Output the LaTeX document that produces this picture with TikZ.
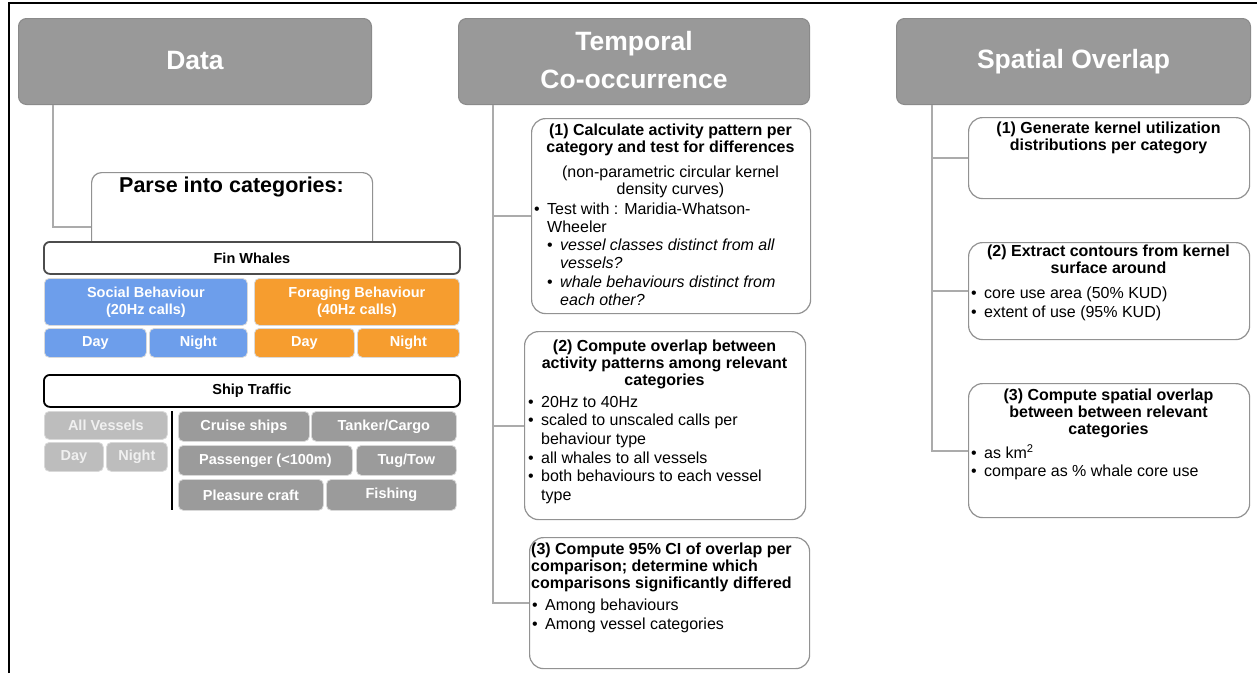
\documentclass[tikz,border=0pt]{standalone}
\usepackage{fontspec}
\setmainfont{Liberation Sans}
\definecolor{hdr}{HTML}{999999}
\definecolor{hdrb}{HTML}{8A8A8A}
\definecolor{connc}{HTML}{ABABAB}
\definecolor{boxb}{HTML}{929292}
\definecolor{blu}{HTML}{6D9EEB}
\definecolor{org}{HTML}{F69D2F}
\definecolor{lgr}{HTML}{BDBDBD}
\definecolor{dgr}{HTML}{9B9B9B}
\newcommand\bul[1]{\makebox[13pt][l]{•}#1}
\newcommand\ind{\hspace*{13pt}}
\begin{document}
\begin{tikzpicture}[x=1pt,y=-1pt,
  hdrbox/.style={draw=hdrb, fill=hdr, rounded corners=8pt, line width=1pt, text=white,
    font=\fontsize{26.5}{38}\selectfont\bfseries, align=center, inner sep=0, anchor=north west},
  cbox/.style={draw=boxb, fill=white, rounded corners=14pt, line width=1.2pt, anchor=north west, inner sep=0},
  cell/.style={rounded corners=5pt, draw=white!85!black, line width=0.8pt, text=white,
    font=\fontsize{14.5}{17}\selectfont\bfseries, align=center, inner sep=0, anchor=north west},
  barbox/.style={fill=white, rounded corners=6pt, line width=1.8pt, anchor=north west, inner sep=0,
    font=\fontsize{14.5}{17}\selectfont\bfseries},
  conn/.style={draw=connc, line width=1.8pt},
  ttl/.style={font=\fontsize{16}{16.7}\selectfont\bfseries, inner sep=0, anchor=north, align=center},
  bod/.style={font=\fontsize{16}{18.6}\selectfont, inner sep=0, anchor=north west, align=left},
]
\useasboundingbox (0,0) rectangle (1257,673);
\fill[white] (0,0) rectangle (1257,673);
% frame
\draw[line width=1.8pt] (9,673) -- (9,3) -- (1257,3);

% headers
\node[hdrbox, minimum width=353, minimum height=86] (data) at (18,18) {\raisebox{2pt}{Data}};
\node[hdrbox, minimum width=351, minimum height=86] (temp) at (458,18)
  {\raisebox{2pt}{\begin{tabular}{@{}c@{}}Temporal\\Co-occurrence\end{tabular}}};
\node[hdrbox, minimum width=354, minimum height=86] (spat) at (896,18) {Spatial Overlap};

% Data column
\node[cbox, rounded corners=10pt, minimum width=281, minimum height=90] (parse) at (91,172) {};
\node[font=\fontsize{21.5}{24}\selectfont\bfseries, inner sep=0] (plabel) at (231.5,187) {Parse into categories:};
\coordinate (dj) at ([xshift=35pt]data.south west);
\coordinate (pj) at (91,227);
\draw[conn] (dj) |- (pj);

\node[barbox, draw=black!70, minimum width=416, minimum height=32] (fin) at (43,241) {Fin Whales};
\node[cell, fill=blu, minimum width=203, minimum height=47] (soc) at (44,278) {Social Behaviour\\(20Hz calls)};
\node[cell, fill=org, minimum width=205, minimum height=47] (for) at (254,278) {Foraging Behaviour\\(40Hz calls)};
\node[cell, fill=blu, minimum width=102, minimum height=29] (sday) at (44,328) {Day};
\node[cell, fill=blu, minimum width=98, minimum height=29] (snight) at (149,328) {Night};
\node[cell, fill=org, minimum width=100, minimum height=29] (fday) at (254,328) {Day};
\node[cell, fill=org, minimum width=102, minimum height=29] (fnight) at (357,328) {Night};

\node[barbox, draw=black, minimum width=416, minimum height=32] (ship) at (43,374) {Ship Traffic};
\node[cell, fill=lgr, text=white!94!black, minimum width=123, minimum height=28] (allv) at (44,411) {All Vessels};
\node[cell, fill=lgr, text=white!94!black, minimum width=59, minimum height=29] (aday) at (44,442) {Day};
\node[cell, fill=lgr, text=white!94!black, minimum width=61, minimum height=29] (anight) at (106,442) {Night};
\draw[line width=1.5pt] (172,411) -- (172,510);
\node[cell, fill=dgr, minimum width=131, minimum height=30] (cru) at (178,411) {Cruise ships};
\node[cell, fill=dgr, minimum width=145, minimum height=30] (tank) at (311,411) {Tanker/Cargo};
\node[cell, fill=dgr, minimum width=174, minimum height=30] (pass) at (178,445) {Passenger (<100m)};
\node[cell, fill=dgr, minimum width=100, minimum height=30] (tug) at (356,445) {Tug/Tow};
\node[cell, fill=dgr, minimum width=145, minimum height=31] (plea) at (178,479) {Pleasure craft};
\node[cell, fill=dgr, minimum width=130, minimum height=31] (fish) at (326,479) {Fishing};

% Temporal column
\node[cbox, minimum width=279, minimum height=195] (t1) at (531,118) {};
\node[cbox, minimum width=281, minimum height=188] (t2) at (524,331) {};
\node[cbox, minimum width=280, minimum height=131] (t3) at (529,537) {};
\coordinate (tj) at ([xshift=35pt]temp.south west);
\draw[conn] (tj) |- (t1.west);
\draw[conn] (tj) |- (t2.west);
\draw[conn] (tj) |- (t3.west);

\node[ttl] (t1a) at (670.5,124) {(1) Calculate activity pattern per\\category and test for differences};
\node[font=\fontsize{16}{16.5}\selectfont, inner sep=0, anchor=north, align=center] (t1b) at (670.5,166)
  {(non-parametric circular kernel\\density curves)};
\node[bod, font=\fontsize{16}{17.8}\selectfont] (t1c) at (534,203) {\bul{Test with : Maridia-Whatson-}\\
  \ind Wheeler\\
  \ind\bul{\itshape vessel classes distinct from all}\\
  \ind\ind{\itshape vessels?}\\[1.5pt]
  \ind\bul{\itshape whale behaviours distinct from}\\
  \ind\ind{\itshape each other?}};

\node[ttl] (t2a) at (664.5,340) {(2) Compute overlap between\\activity patterns among relevant\\categories};
\node[bod] (t2b) at (528,396) {\bul{20Hz to 40Hz}\\
  \bul{scaled to unscaled calls per}\\
  \ind behaviour type\\
  \bul{all whales to all vessels}\\
  \bul{both behaviours to each vessel}\\
  \ind type};

\node[ttl, anchor=north west, align=left] (t3a) at (531,543) {(3) Compute 95\% CI of overlap per\\comparison; determine which\\comparisons significantly differed};
\node[bod] (t3b) at (532,599) {\bul{Among behaviours}\\\bul{Among vessel categories}};

% Spatial column
\node[cbox, minimum width=281, minimum height=81] (s1) at (968,117) {};
\node[cbox, minimum width=281, minimum height=97] (s2) at (968,242) {};
\node[cbox, minimum width=281, minimum height=134] (s3) at (968,383) {};
\coordinate (sj) at ([xshift=36pt]spat.south west);
\draw[conn] (sj) |- (s1.west);
\draw[conn] (sj) |- (s2.west);
\draw[conn] (sj) |- (s3.west);

\node[ttl] (s1a) at (1108.5,122) {(1) Generate kernel utilization\\distributions per category};
\node[ttl] (s2a) at (1108.5,245) {(2) Extract contours from kernel\\surface around};
\node[bod] (s2b) at (971,287) {\bul{core use area (50\% KUD)}\\\bul{extent of use (95\% KUD)}};
\node[ttl] (s3a) at (1108.5,389) {(3) Compute spatial overlap\\between between relevant\\categories};
\node[bod] (s3b) at (971,444) {\bul{as km\textsuperscript{2}}\\\bul{compare as \% whale core use}};
\end{tikzpicture}
\end{document}
